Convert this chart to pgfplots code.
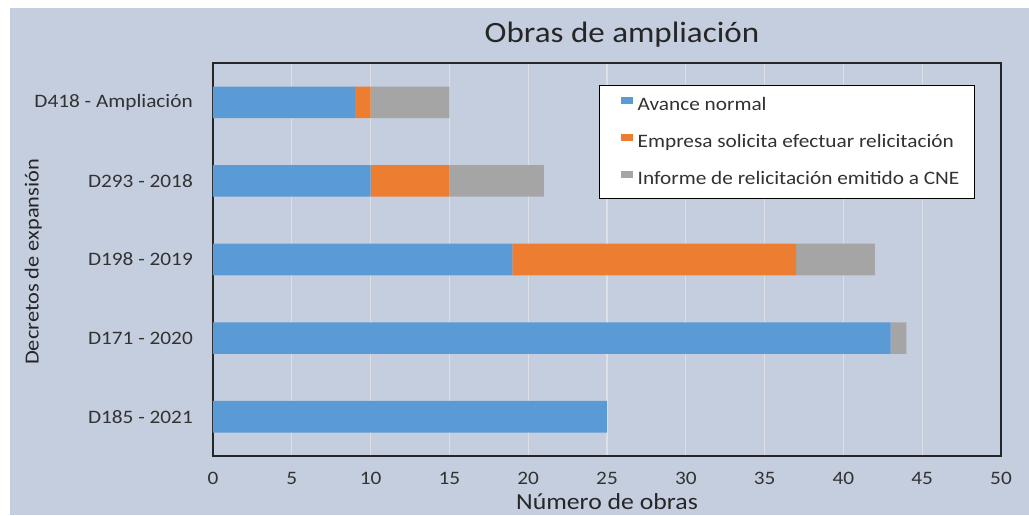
\documentclass[border=0pt]{standalone}
\usepackage{fontspec}
\setmainfont{Carlito}[FakeStretch=1.12]
\usepackage{pgfplots}
\pgfplotsset{compat=1.18}
\definecolor{bgc}{RGB}{197,206,223}
\definecolor{gridc}{RGB}{220,223,229}
\definecolor{cblue}{RGB}{91,155,213}
\definecolor{corange}{RGB}{237,125,49}
\definecolor{cgray}{RGB}{165,165,165}
\definecolor{txt}{RGB}{50,50,50}
\begin{document}
\begin{tikzpicture}[x=1pt,y=1pt]
\useasboundingbox (0,0) rectangle (1029,515);
\fill[white] (0,0) rectangle (1029,515);
\fill[bgc] (10,0) rectangle (1029,507);
\begin{axis}[
  at={(213pt,59pt)}, anchor=south west,
  scale only axis, width=788pt, height=393pt,
  xbar stacked, bar width=31.6pt,
  xmin=0, xmax=50, ymin=-0.5, ymax=4.5,
  xtick={0,5,...,50},
  ytick={0,1,2,3,4},
  yticklabels={D185 - 2021, D171 - 2020, D198 - 2019, D293 - 2018, D418 - Ampliación},
  major tick length=0pt,
  /pgf/number format/assume math mode=true,
  xmajorgrids, major grid style={gridc, line width=1.3pt},
  axis line style={black!85, line width=1.6pt},
  tick label style={font=\fontsize{19}{22}\selectfont, text=txt},
  xticklabel style={anchor=center, yshift=-22pt},
  yticklabel style={anchor=east, inner sep=0pt, xshift=-20pt},
  title={Obras de ampliación},
  title style={at={(axis description cs:0.519,1.058)}, anchor=center, font=\fontsize{29.5}{32}\selectfont, text=black!85},
  xlabel={Número de obras},
  xlabel style={at={(axis description cs:0.5,-0.117)}, anchor=center, font=\fontsize{23}{28}\selectfont, text=black!85},
  ylabel={Decretos de expansión},
  ylabel style={at={(axis description cs:-0.228,0.494)}, anchor=center, rotate=0, font=\fontsize{20}{24}\selectfont, text=black!85},
  legend style={at={(0.49,0.944)}, anchor=north west, draw=black, line width=1.2pt, fill=white,
    inner xsep=13pt, inner ysep=8.5pt, row sep=15pt,
    font=\fontsize{19}{22}\selectfont, text=txt,
    nodes={inner sep=2pt, text height=14pt, text depth=4pt},
    /tikz/every odd column/.append style={column sep=2.5pt}},
  legend cell align=left,
  legend image code/.code={\path (0pt,1pt); \fill[#1,draw=none] (8pt,1pt) rectangle (20.5pt,8.5pt);},
]
\addplot[fill=cblue, draw=none] coordinates {(25,0) (43,1) (19,2) (10,3) (9,4)};
\addplot[fill=corange, draw=none] coordinates {(0,0) (0,1) (18,2) (5,3) (1,4)};
\addplot[fill=cgray, draw=none] coordinates {(0,0) (1,1) (5,2) (6,3) (5,4)};
\legend{Avance normal, Empresa solicita efectuar relicitación, Informe de relicitación emitido a CNE}
\end{axis}
\end{tikzpicture}
\end{document}
